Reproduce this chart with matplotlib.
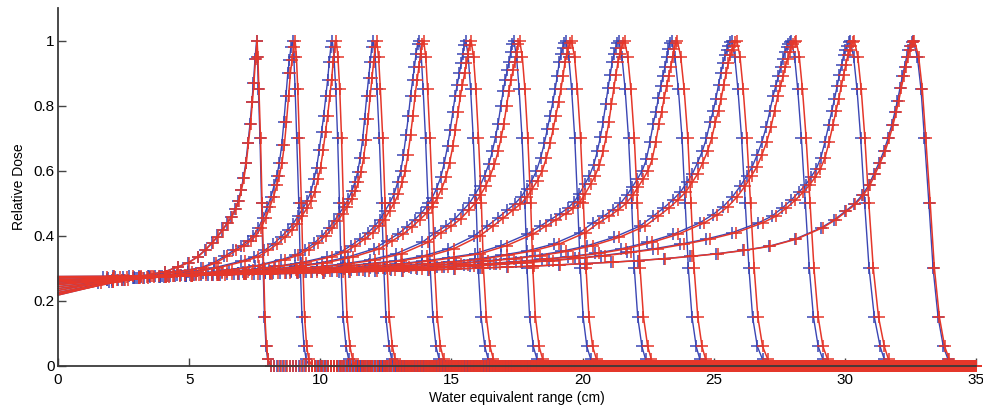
import numpy as np
import matplotlib
matplotlib.use("Agg")
import matplotlib.pyplot as plt

plt.rcParams['font.family'] = ['Liberation Sans', 'DejaVu Sans']

# Bragg peak depth (cm) for each of the 14 energies (blue set)
peak_cm = [7.57, 8.94, 10.46, 12.02, 13.77, 15.55, 17.38, 19.36, 21.38, 23.39, 25.68, 27.96, 30.20, 32.60]
# the red set sits a little deeper
red_shift_cm = [0.02, 0.10, 0.15, 0.13, 0.17, 0.20, 0.22, 0.22, 0.22, 0.22, 0.20, 0.18, 0.16, 0.05]

# dose at the surface (x = 0)
entrance_dose = [0.218, 0.222, 0.226, 0.232, 0.238, 0.244, 0.250, 0.254, 0.258, 0.262, 0.265, 0.270, 0.272, 0.275]

# plateau, read at residual range (cm before the peak); row i holds the first len(row) residuals
plateau_residual = [3.5, 4.5, 5.5, 6.5, 7.5, 8.5, 9.5, 10.5, 11.5, 12.5, 13.5, 14.5, 15.5, 16.5,
                    17.5, 18.5, 19.5, 20.5, 21.5, 22.5, 23.5, 24.5, 25.5, 26.5, 27.5, 28.5, 29.5, 30.5]
plateau_dose = [
    [0.290, 0.275, 0.258],
    [0.302, 0.289, 0.276, 0.263],
    [0.322, 0.302, 0.288, 0.278, 0.269, 0.259],
    [0.327, 0.308, 0.296, 0.286, 0.279, 0.272, 0.265, 0.256],
    [0.336, 0.318, 0.306, 0.296, 0.289, 0.283, 0.277, 0.271, 0.264],
    [0.360, 0.335, 0.318, 0.306, 0.297, 0.290, 0.285, 0.280, 0.275, 0.270, 0.263],
    [0.380, 0.345, 0.326, 0.314, 0.305, 0.298, 0.292, 0.287, 0.282, 0.278, 0.274, 0.270, 0.264],
    [0.400, 0.360, 0.337, 0.323, 0.315, 0.306, 0.299, 0.294, 0.289, 0.285, 0.281, 0.278, 0.274, 0.270,
     0.265],
    [0.405, 0.370, 0.345, 0.333, 0.322, 0.313, 0.307, 0.301, 0.296, 0.291, 0.287, 0.284, 0.281, 0.278,
     0.275, 0.271, 0.267],
    [0.410, 0.375, 0.354, 0.340, 0.328, 0.320, 0.313, 0.307, 0.302, 0.298, 0.294, 0.290, 0.286, 0.283,
     0.281, 0.278, 0.276, 0.273, 0.269],
    [0.430, 0.395, 0.370, 0.352, 0.339, 0.330, 0.322, 0.315, 0.309, 0.304, 0.300, 0.296, 0.292, 0.289,
     0.286, 0.283, 0.281, 0.279, 0.277, 0.275, 0.272],
    [0.440, 0.405, 0.380, 0.360, 0.346, 0.336, 0.328, 0.321, 0.315, 0.310, 0.305, 0.301, 0.298, 0.295,
     0.292, 0.289, 0.286, 0.284, 0.282, 0.280, 0.278, 0.277, 0.275],
    [0.440, 0.410, 0.390, 0.374, 0.360, 0.349, 0.339, 0.331, 0.324, 0.318, 0.312, 0.307, 0.303, 0.299,
     0.296, 0.293, 0.290, 0.288, 0.286, 0.284, 0.282, 0.280, 0.279, 0.277, 0.276, 0.274],
    [0.425, 0.390, 0.368, 0.355, 0.345, 0.337, 0.330, 0.324, 0.319, 0.315, 0.311, 0.307, 0.304, 0.301,
     0.298, 0.295, 0.293, 0.291, 0.289, 0.287, 0.285, 0.283, 0.282, 0.280, 0.279, 0.278, 0.277, 0.276],
]

# proximal rise: offsets from the peak (cm) and dose at each offset
rise_offset = [-3.0, -2.6, -2.25, -1.95, -1.7, -1.5, -1.3, -1.12, -0.96, -0.82,
               -0.7, -0.6, -0.5, -0.41, -0.33, -0.25, -0.18, -0.12, -0.06, 0.0]
rise_dose = [
    [0.305, 0.318, 0.336, 0.358, 0.379, 0.398, 0.419, 0.440, 0.459, 0.482,
     0.506, 0.540, 0.578, 0.625, 0.685, 0.745, 0.810, 0.870, 0.945, 1.0],
    [0.318, 0.337, 0.355, 0.370, 0.385, 0.400, 0.425, 0.455, 0.490, 0.520,
     0.555, 0.585, 0.625, 0.680, 0.750, 0.830, 0.900, 0.940, 0.980, 1.0],
    [0.335, 0.355, 0.375, 0.397, 0.418, 0.437, 0.462, 0.485, 0.508, 0.535,
     0.575, 0.610, 0.665, 0.720, 0.770, 0.830, 0.880, 0.935, 0.980, 1.0],
    [0.340, 0.358, 0.378, 0.400, 0.423, 0.445, 0.468, 0.490, 0.512, 0.537,
     0.565, 0.595, 0.640, 0.695, 0.760, 0.830, 0.885, 0.935, 0.980, 1.0],
    [0.350, 0.370, 0.390, 0.410, 0.430, 0.450, 0.477, 0.502, 0.528, 0.565,
     0.600, 0.650, 0.710, 0.770, 0.830, 0.880, 0.920, 0.960, 0.990, 1.0],
    [0.385, 0.405, 0.428, 0.450, 0.470, 0.490, 0.515, 0.545, 0.580, 0.625,
     0.675, 0.725, 0.780, 0.830, 0.865, 0.900, 0.930, 0.960, 0.988, 1.0],
    [0.410, 0.430, 0.452, 0.478, 0.500, 0.525, 0.552, 0.585, 0.620, 0.660,
     0.705, 0.745, 0.800, 0.845, 0.880, 0.910, 0.935, 0.965, 0.990, 1.0],
    [0.430, 0.455, 0.478, 0.498, 0.520, 0.545, 0.570, 0.600, 0.640, 0.685,
     0.730, 0.770, 0.810, 0.850, 0.890, 0.935, 0.960, 0.978, 0.994, 1.0],
    [0.430, 0.450, 0.468, 0.485, 0.505, 0.530, 0.558, 0.585, 0.618, 0.660,
     0.705, 0.750, 0.805, 0.855, 0.895, 0.935, 0.960, 0.978, 0.994, 1.0],
    [0.440, 0.460, 0.480, 0.500, 0.525, 0.550, 0.575, 0.600, 0.635, 0.690,
     0.745, 0.780, 0.825, 0.860, 0.890, 0.920, 0.950, 0.975, 0.994, 1.0],
    [0.460, 0.485, 0.510, 0.535, 0.565, 0.590, 0.625, 0.660, 0.700, 0.750,
     0.785, 0.822, 0.865, 0.900, 0.930, 0.955, 0.972, 0.985, 0.996, 1.0],
    [0.465, 0.490, 0.520, 0.553, 0.585, 0.612, 0.650, 0.690, 0.735, 0.785,
     0.830, 0.860, 0.890, 0.920, 0.945, 0.965, 0.980, 0.990, 0.997, 1.0],
    [0.460, 0.485, 0.510, 0.535, 0.557, 0.580, 0.605, 0.640, 0.690, 0.740,
     0.785, 0.820, 0.860, 0.895, 0.925, 0.955, 0.972, 0.985, 0.996, 1.0],
    [0.450, 0.475, 0.497, 0.525, 0.555, 0.590, 0.625, 0.660, 0.700, 0.740,
     0.780, 0.815, 0.855, 0.890, 0.920, 0.950, 0.970, 0.985, 0.996, 1.0],
]

# distal fall-off: distance past the peak (cm) where each dose level is reached
fall_level = [0.95, 0.85, 0.7, 0.5, 0.3, 0.15, 0.06, 0.02]
fall_offset = [
    [0.03, 0.07, 0.13, 0.19, 0.25, 0.30, 0.36, 0.42],
    [0.05, 0.10, 0.16, 0.24, 0.30, 0.36, 0.44, 0.52],
    [0.06, 0.13, 0.20, 0.27, 0.33, 0.41, 0.52, 0.62],
    [0.07, 0.14, 0.23, 0.32, 0.40, 0.48, 0.60, 0.70],
    [0.08, 0.15, 0.24, 0.34, 0.42, 0.52, 0.64, 0.76],
    [0.09, 0.18, 0.28, 0.39, 0.47, 0.58, 0.72, 0.85],
    [0.10, 0.20, 0.31, 0.42, 0.50, 0.60, 0.74, 0.88],
    [0.11, 0.22, 0.34, 0.45, 0.55, 0.66, 0.80, 0.95],
    [0.12, 0.24, 0.37, 0.49, 0.59, 0.72, 0.88, 1.02],
    [0.13, 0.26, 0.40, 0.52, 0.64, 0.78, 0.94, 1.08],
    [0.12, 0.24, 0.38, 0.52, 0.66, 0.80, 0.98, 1.18],
    [0.12, 0.24, 0.38, 0.53, 0.68, 0.84, 1.02, 1.20],
    [0.13, 0.26, 0.40, 0.55, 0.72, 0.92, 1.14, 1.30],
    [0.16, 0.30, 0.43, 0.60, 0.76, 0.95, 1.15, 1.33],
]

# zero-dose readings beyond the range, every 0.12 cm out to 35 cm
tail_step = 0.12
x_end = 35.0

blue = '#3b46b4'
red = '#e5372a'


def curve(i, shift):
    p = peak_cm[i] + shift
    n = len(plateau_dose[i])
    plat_x = [p - r for r in plateau_residual[:n]][::-1]
    plat_y = plateau_dose[i][::-1]
    depth = [0.0] + plat_x + [p + o for o in rise_offset] + [p + o for o in fall_offset[i]]
    tail = np.arange(depth[-1] + tail_step, x_end + 1e-6, tail_step)
    depth = np.concatenate([depth, tail])
    dose = np.concatenate([[entrance_dose[i]], plat_y, rise_dose[i], fall_level, np.zeros(len(tail))])
    return depth, dose


fig = plt.figure(figsize=(9.83, 4.08), dpi=100)
ax = fig.add_axes([0.059, 0.103, 0.934, 0.877])

for i in range(len(peak_cm)):
    x, y = curve(i, 0.0)
    ax.plot(x, y, color=blue, lw=1.0, marker='+', ms=8, mew=1.1,
            markevery=slice(1, None), clip_on=False)
for i in range(len(peak_cm)):
    x, y = curve(i, red_shift_cm[i])
    ax.plot(x, y, color=red, lw=1.1, marker='+', ms=8, mew=1.1,
            markevery=slice(1, None), clip_on=False)

ax.set_xlim(0, 35)
ax.set_ylim(0, 1.1)
ax.set_xticks(np.arange(0, 36, 5))
ax.set_yticks([0, 0.2, 0.4, 0.6, 0.8, 1.0])
ax.set_yticklabels(['0', '0.2', '0.4', '0.6', '0.8', '1'])
ax.spines['top'].set_visible(False)
ax.spines['right'].set_visible(False)
for s in ('left', 'bottom'):
    ax.spines[s].set_color('#3a3a3a')
    ax.spines[s].set_linewidth(1.3)
ax.tick_params(axis='y', direction='in', length=6, width=1, color='#444444', labelsize=11, pad=2.5)
ax.tick_params(axis='x', direction='in', length=6, width=1, color='#444444', labelsize=11, pad=5)
ax.set_xlabel('Water equivalent range (cm)', fontsize=10, labelpad=3)
ax.set_ylabel('Relative Dose', fontsize=10, labelpad=5)

plt.savefig('out.png', dpi=100)
